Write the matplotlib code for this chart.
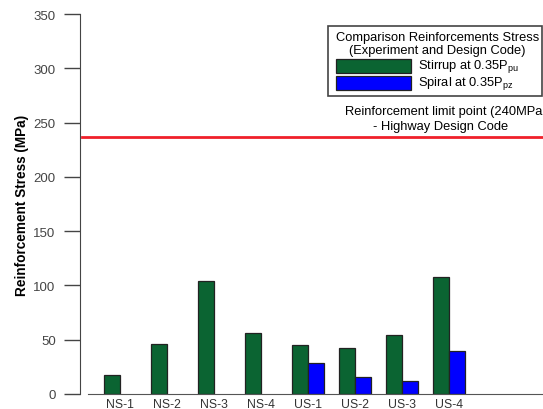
import matplotlib
matplotlib.use("Agg")
import matplotlib.pyplot as plt
from matplotlib.patches import Rectangle

plt.rcParams['font.family'] = ['Liberation Sans', 'DejaVu Sans']

# data
labels = ['NS-1', 'NS-2', 'NS-3', 'NS-4', 'US-1', 'US-2', 'US-3', 'US-4']
stirrup = [17.8, 46, 104, 56, 45, 42.5, 54.5, 108]
spiral = [0, 0, 0, 0, 28.3, 15.7, 12.3, 39.7]
limit_stress = 237
yticks = [0, 50, 100, 150, 200, 250, 300, 350]

green = '#0b6432'
blue = '#0000ff'

W, H = 543, 410
fig = plt.figure(figsize=(W / 100, H / 100), dpi=100)
ax = fig.add_axes([80 / W, 15 / H, 480 / W, 380 / H])


def fx(px):
    return px / W


def fy(py):
    return 1 - py / H


x = list(range(len(labels)))
w = 0.34
ax.bar([i - w / 2 for i in x], stirrup, width=w, color=green,
       edgecolor='#222222', linewidth=0.9)
ax.bar([i + w / 2 for i in x if spiral[i] > 0], [s for s in spiral if s > 0],
       width=w, color=blue, edgecolor='#222222', linewidth=0.9)

ax.axhline(limit_stress, xmin=0.005, color='#f0202a', linewidth=2)

ax.set_xlim(-0.85, 9.36)
ax.set_ylim(0, 350)
ax.set_xticks(x)
ax.set_xticklabels(labels, fontsize=8.8, color='#333333')
ax.tick_params(axis='x', length=0, pad=3)
ax.set_yticks(yticks)
ax.tick_params(axis='y', length=11.5, width=1, colors='#444444', labelsize=9.5,
               direction='out', pad=6)

ax.spines['top'].set_visible(False)
ax.spines['right'].set_visible(False)
ax.spines['left'].set_color('#444444')
ax.spines['bottom'].set_color('#555555')
ax.spines['bottom'].set_bounds(-0.68, 9.36)

ax.set_ylabel('Reinforcement Stress (MPa)', fontsize=9.8, fontweight='bold',
              labelpad=3)

# legend box, drawn by hand since it runs off the right edge
fig.patches.append(Rectangle((fx(328), fy(97)), fx(542) - fx(328), fy(27) - fy(97),
                             transform=fig.transFigure, fill=False,
                             edgecolor='#444444', linewidth=1.2))
fig.text(fx(438), fy(38), 'Comparison Reinforcements Stress', ha='center',
         va='center', fontsize=9.3)
fig.text(fx(437), fy(51), '(Experiment and Design Code)', ha='center',
         va='center', fontsize=9.3)
for (top, col, txt) in [(60, green, r'Stirrup at 0.35P$_{\mathregular{pu}}$'),
                        (77, blue, r'Spiral at 0.35P$_{\mathregular{pz}}$')]:
    fig.patches.append(Rectangle((fx(336), fy(top + 14)), fx(411) - fx(336), 14 / H,
                                 transform=fig.transFigure, facecolor=col,
                                 edgecolor='#222222', linewidth=0.9))
    fig.text(fx(418), fy(top + 7), txt, ha='left', va='center', fontsize=9.3)

fig.text(fx(345), fy(112), 'Reinforcement limit point (240MPa', ha='left',
         va='center', fontsize=9.3)
fig.text(fx(441), fy(127), '- Highway Design Code', ha='center',
         va='center', fontsize=9.3)

fig.savefig('out.png', dpi=100)
